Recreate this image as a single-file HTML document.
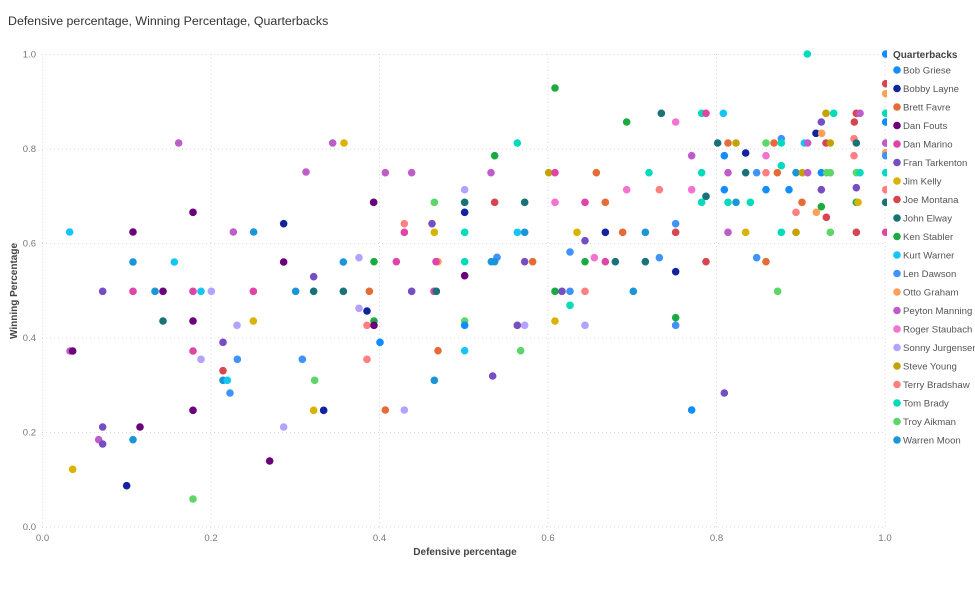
<!DOCTYPE html>
<html><head><meta charset="utf-8"><style>
body{margin:0;background:#fff;width:975px;height:593px;overflow:hidden;font-family:"Liberation Sans",sans-serif}
</style></head><body>
<svg id="s" width="975" height="593" xmlns="http://www.w3.org/2000/svg" font-family="Liberation Sans, sans-serif">
<defs><clipPath id="c"><rect x="30" y="40" width="857" height="500"/></clipPath></defs>
<text x="8" y="25" font-size="12.4" fill="#333">Defensive percentage, Winning Percentage, Quarterbacks</text>
<g id="grid" stroke="#d8d8d8" stroke-dasharray="1,3" stroke-width="1"></g>
<g id="ticks" font-size="9.5" fill="#777"></g>
<text x="465" y="555" font-size="10" fill="#444" font-weight="bold" text-anchor="middle">Defensive percentage</text>
<text transform="translate(17,291) rotate(-90)" font-size="10" fill="#444" font-weight="bold" text-anchor="middle">Winning Percentage</text>
<g id="pts" clip-path="url(#c)"></g>
<g id="leg" font-size="9.6" fill="#555"></g>
</svg>
<script>
var C={BG:"#118DFF",BL:"#12239E",BF:"#E66C37",DF:"#6B007B",DM:"#E044A7",FT:"#744EC2",JK:"#D9B300",JM:"#D64550",JE:"#197278",KS:"#1AAB40",KW:"#15C6F4",LD:"#4092FF",OG:"#FFA058",PM:"#BE5DC9",RS:"#F472D0",SJ:"#B5A1FF",SY:"#C4A200",TB:"#FF8080",TBr:"#00DBBC",TA:"#5BD667",WM:"#1A96D8"};
var names=[["Bob Griese","BG"],["Bobby Layne","BL"],["Brett Favre","BF"],["Dan Fouts","DF"],["Dan Marino","DM"],["Fran Tarkenton","FT"],["Jim Kelly","JK"],["Joe Montana","JM"],["John Elway","JE"],["Ken Stabler","KS"],["Kurt Warner","KW"],["Len Dawson","LD"],["Otto Graham","OG"],["Peyton Manning","PM"],["Roger Staubach","RS"],["Sonny Jurgensen","SJ"],["Steve Young","SY"],["Terry Bradshaw","TB"],["Tom Brady","TBr"],["Troy Aikman","TA"],["Warren Moon","WM"]];
var ns="http://www.w3.org/2000/svg";
function el(t,a,p,txt){var e=document.createElementNS(ns,t);for(var k in a)e.setAttribute(k,a[k]);if(txt)e.textContent=txt;document.getElementById(p).appendChild(e);}
for(var i=0;i<=5;i++){var x=42.5+i*168.5,y=527-i*94.5;
el("line",{x1:x,y1:54,x2:x,y2:527},"grid");el("line",{x1:42,y1:y,x2:885,y2:y},"grid");
el("text",{x:x,y:541,"text-anchor":"middle"},"ticks",(i*0.2).toFixed(1));
el("text",{x:36,y:y+3,"text-anchor":"end"},"ticks",(i*0.2).toFixed(1));}
var R=[[0,40,"209,576,KW;399,576,DF;536,309,PM;579,517,DF;700,576,PM;761,576,WM;851,551,BL;918,396,PM"],
[30,240,"309,66,WM;433,66,KW;761,66,DF;940,66,WM;851,110,FT;218,154,FT;309,154,DM;375,154,WM;399,154,DF;489,154,DM;513,154,KW;544,154,SJ;670,154,DM;797,154,WM;851,154,JE;940,154,JE;399,243,JE;489,243,DF;621,256,SJ;670,243,JK;579,307,FT;120,333,PM;128,333,DF;489,333,DM;513,358,SJ;622,358,LD;817,358,LD;579,392,JM;579,421,WM;592,421,KW;854,421,TA;600,459,LD;489,511,DF;851,511,JK;881,511,BL;218,561,FT;330,561,DF;761,561,SJ;206,599,PM;218,612,FT;309,599,WM;719,663,DF;128,688,JK;290,737,BL;489,777,TA"],
[330,40,"8,309,PM;42,309,JK;675,144,KS;890,246,KS;562,309,TBr;494,347,KS;166,398,PM;245,398,PM;483,398,PM;656,398,SY;675,398,DM;799,398,BF;404,449,SJ;890,449,RS;131,487,DF;313,487,TA;404,487,JE;494,487,JM;584,487,JE;675,487,RS;765,487,DM;826,487,BF;404,517,BL;223,551,TB;306,551,FT;223,577,DM;313,577,JK;404,577,TBr;562,577,KW;584,577,WM;741,577,JK;826,577,BL;878,577,BF;765,602,FT;720,636,LD;87,653,SJ;132,665,KS;199,665,DM;324,665,OG;318,665,DM;404,665,TBr;484,665,WM;501,652,LD;494,665,WM;584,665,FT;608,665,BF;765,665,KS;793,653,RS;826,665,DM;856,665,JE;404,707,DF;118,754,BF;245,754,FT;312,754,DM;319,754,JE;675,754,KS;696,754,FT;720,754,LD;765,754,TB;720,796,TBr;87,805,SJ;111,813,BL;132,843,KS;111,856,TB;132,856,DF;404,843,TA;404,856,BG;562,856,FT;584,856,SJ;675,843,JK;765,856,SJ;150,907,BG;324,932,BF;404,932,KW;572,932,TA;111,958,TB;313,1021,WM;488,1008,FT;166,1110,BF;223,1110,SJ"],
[620,40,"562,42,TBr;797,42,BG;797,131,JM;797,161,OG;124,220,JE;245,220,TBr;258,220,DM;310,220,KW;618,220,SY;641,220,TBr;709,220,JM;720,220,PM;797,220,TBr;167,246,RS;604,246,FT;703,246,JM;797,246,BG;588,280,BL;605,280,OG;484,296,LD;702,296,TB;293,309,JE;324,309,BF;348,309,SY;438,309,TA;462,309,BF;484,309,TBr;553,309,KW;563,309,PM;618,309,JM;631,309,SY;709,309,JE;797,309,PM;215,347,PM;313,347,BG;377,339,BL;438,347,RS;702,347,TB;797,338,OG;797,347,LD;484,377,TBr;87,398,TBr;245,398,TBr;324,398,PM;377,398,JE;410,398,LD;438,398,TB;472,398,BF;528,398,WM;547,398,SY;563,398,PM;604,398,BG;620,398,TA;631,398,TA;709,398,TA;720,398,TBr;797,398,TBr;118,449,TB;215,449,RS;313,449,BG;438,449,BG;507,449,BG;604,449,FT;709,443,FT;797,449,TB;258,469,JE;245,487,TBr;324,487,TBr;348,487,WM;391,487,TBr;546,487,BF;604,500,KS;709,487,KS;714,487,JK;797,487,JE;528,517,TB;589,517,OG;619,532,JM;167,551,LD;76,577,WM;167,577,JM;324,577,PM;377,577,JK;484,577,TBr;528,577,SY;631,577,TA;709,577,JM;797,577,DM;76,665,JE;118,653,LD;167,695,BL;258,665,JM;410,653,LD;438,665,BF;40,754,WM;473,754,TA;167,833,KS;167,856,LD;313,1059,FT;215,1110,BG"]];
R.forEach(function(r){r[2].split(";").forEach(function(p){var a=p.split(",");
el("circle",{cx:r[0]+a[0]/3,cy:r[1]+a[1]/3,r:3.8,fill:C[a[2]]},"pts");});});
el("text",{x:893,y:58,"font-weight":"bold",fill:"#444","font-size":"10"},"leg","Quarterbacks");
names.forEach(function(n,i){var y=70+i*18.5;el("circle",{cx:897,cy:y,r:3.8,fill:C[n[1]]},"leg");el("text",{x:903,y:y+3.6},"leg",n[0]);});
</script>
</body></html>
